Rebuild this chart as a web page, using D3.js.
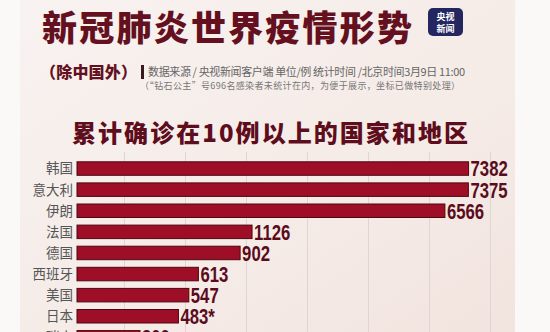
<!DOCTYPE html>
<html>
<head>
<meta charset="utf-8">
<script src="https://cdn.jsdelivr.net/npm/d3@7"></script>
<style>
  body { margin: 0; background: #fbf9f8; }
  svg { display: block; }
</style>
</head>
<body>
<script>
// data
const countries = ["韩国", "意大利", "伊朗", "法国", "德国", "西班牙", "美国", "日本", "瑞士"];
const cases = [7382, 7375, 6566, 1126, 902, 613, 547, 483, 300];
const caseLabels = ["7382", "7375", "6566", "1126", "902", "613", "547", "483*", "300"];

// "coordinates specially processed" -> broken scale, piecewise linear
const breakValues = [0, 500, 900, 1200, 6500, 7500];

let W = 550, H = 332;
let svg, x, y;

setupSvg();
drawBackground();
drawHeader();
setupScales();
drawGrid();
drawBars();

function setupSvg() {
  svg = d3.select("body").append("svg")
    .attr("width", W)
    .attr("height", H);
}

function drawBackground() {
  const defs = svg.append("defs");
  const g = defs.append("linearGradient").attr("id", "bg")
    .attr("x1", 0).attr("y1", 0).attr("x2", 1).attr("y2", 1);
  g.append("stop").attr("offset", "0%").attr("stop-color", "#f8f2f0");
  g.append("stop").attr("offset", "60%").attr("stop-color", "#f5ebe7");
  g.append("stop").attr("offset", "100%").attr("stop-color", "#f2e4df");

  svg.append("rect")
    .attr("x", 20).attr("y", 0)
    .attr("width", 495).attr("height", H)
    .attr("fill", "url(#bg)");
}

function drawHeader() {
  svg.append("text")
    .attr("x", 42).attr("y", 41)
    .attr("textLength", 370)
    .style("font-family", "'Noto Sans CJK SC'")
    .style("font-weight", 900)
    .style("font-size", "35px")
    .style("fill", "#65101f")
    .text("新冠肺炎世界疫情形势");

  // CCTV news logo
  svg.append("rect")
    .attr("x", 428).attr("y", 8)
    .attr("width", 35).attr("height", 28)
    .attr("rx", 5)
    .attr("fill", "#23265f");
  svg.append("text")
    .attr("x", 445.5).attr("y", 19.5)
    .attr("text-anchor", "middle")
    .style("font-family", "'Noto Sans CJK SC'")
    .style("font-weight", 700)
    .style("font-size", "9px")
    .style("fill", "#fff")
    .text("央视");
  svg.append("text")
    .attr("x", 445.5).attr("y", 32)
    .attr("text-anchor", "middle")
    .style("font-family", "'Noto Sans CJK SC'")
    .style("font-weight", 700)
    .style("font-size", "9px")
    .style("fill", "#fff")
    .text("新闻");

  svg.append("text")
    .attr("x", 40).attr("y", 78)
    .attr("textLength", 97)
    .style("font-family", "'Noto Sans CJK SC'")
    .style("font-weight", 900)
    .style("font-size", "16px")
    .style("fill", "#65101f")
    .text("（除中国外）");

  svg.append("rect")
    .attr("x", 141).attr("y", 65)
    .attr("width", 3).attr("height", 14)
    .attr("fill", "#3a1a20");

  svg.append("text")
    .attr("x", 148).attr("y", 76)
    .attr("textLength", 317)
    .style("font-family", "'Noto Sans CJK SC'")
    .style("font-size", "11px")
    .style("fill", "#666")
    .text("数据来源 / 央视新闻客户端  单位/例   统计时间 /北京时间3月9日 11:00");

  svg.append("text")
    .attr("x", 140).attr("y", 89)
    .attr("textLength", 320)
    .style("font-family", "'Noto Sans CJK SC'")
    .style("font-size", "9px")
    .style("fill", "#777")
    .text("（“钻石公主”号696名感染者未统计在内，为便于展示，坐标已做特别处理）");

  svg.append("text")
    .attr("x", 72).attr("y", 142)
    .attr("textLength", 396)
    .style("font-family", "'Noto Sans CJK SC'")
    .style("font-weight", 900)
    .style("font-size", "24px")
    .style("fill", "#5e0d1c")
    .text("累计确诊在10例以上的国家和地区");
}

function setupScales() {
  x = d3.scaleLinear()
    .domain(breakValues)
    .range([77, 182, 240, 256, 443, 472]);

  y = d3.scaleBand()
    .domain(countries)
    .range([158, 158 + countries.length * 21.1])
    .paddingInner(0.36)
    .paddingOuter(0.18);
}

function drawGrid() {
  const gx = d3.range(124, 500, 61);
  svg.append("g").selectAll("line")
    .data(gx)
    .join("line")
    .attr("x1", d => d + 0.5).attr("x2", d => d + 0.5)
    .attr("y1", 152).attr("y2", H)
    .attr("stroke", "#ddd6d4")
    .attr("stroke-width", 1);
}

function drawBars() {
  const rows = countries.map((c, i) => ({ name: c, value: cases[i], label: caseLabels[i] }));

  svg.append("g").selectAll("text")
    .data(rows)
    .join("text")
    .attr("x", 73)
    .attr("y", d => y(d.name) + y.bandwidth() / 2)
    .attr("dy", "0.36em")
    .attr("text-anchor", "end")
    .style("font-family", "'Noto Sans CJK SC'")
    .style("font-size", "13.5px")
    .style("fill", "#555")
    .text(d => d.name);

  svg.append("g").selectAll("rect")
    .data(rows)
    .join("rect")
    .attr("x", x(0))
    .attr("y", d => y(d.name))
    .attr("width", d => x(d.value) - x(0))
    .attr("height", y.bandwidth())
    .attr("fill", "#9e0f27")
    .attr("stroke", "#4e0612")
    .attr("stroke-width", 1);

  // condensed bold numbers: squeeze a normal bold face horizontally
  svg.append("g").selectAll("text")
    .data(rows)
    .join("text")
    .attr("transform", d => `translate(${x(d.value) + 2}, ${y(d.name) + y.bandwidth() / 2}) scale(0.76, 1)`)
    .attr("dy", "0.36em")
    .style("font-family", "'Liberation Sans', sans-serif")
    .style("font-weight", 700)
    .style("font-size", "22px")
    .style("fill", "#5a0c1c")
    .text(d => d.label);
}
</script>
</body>
</html>
